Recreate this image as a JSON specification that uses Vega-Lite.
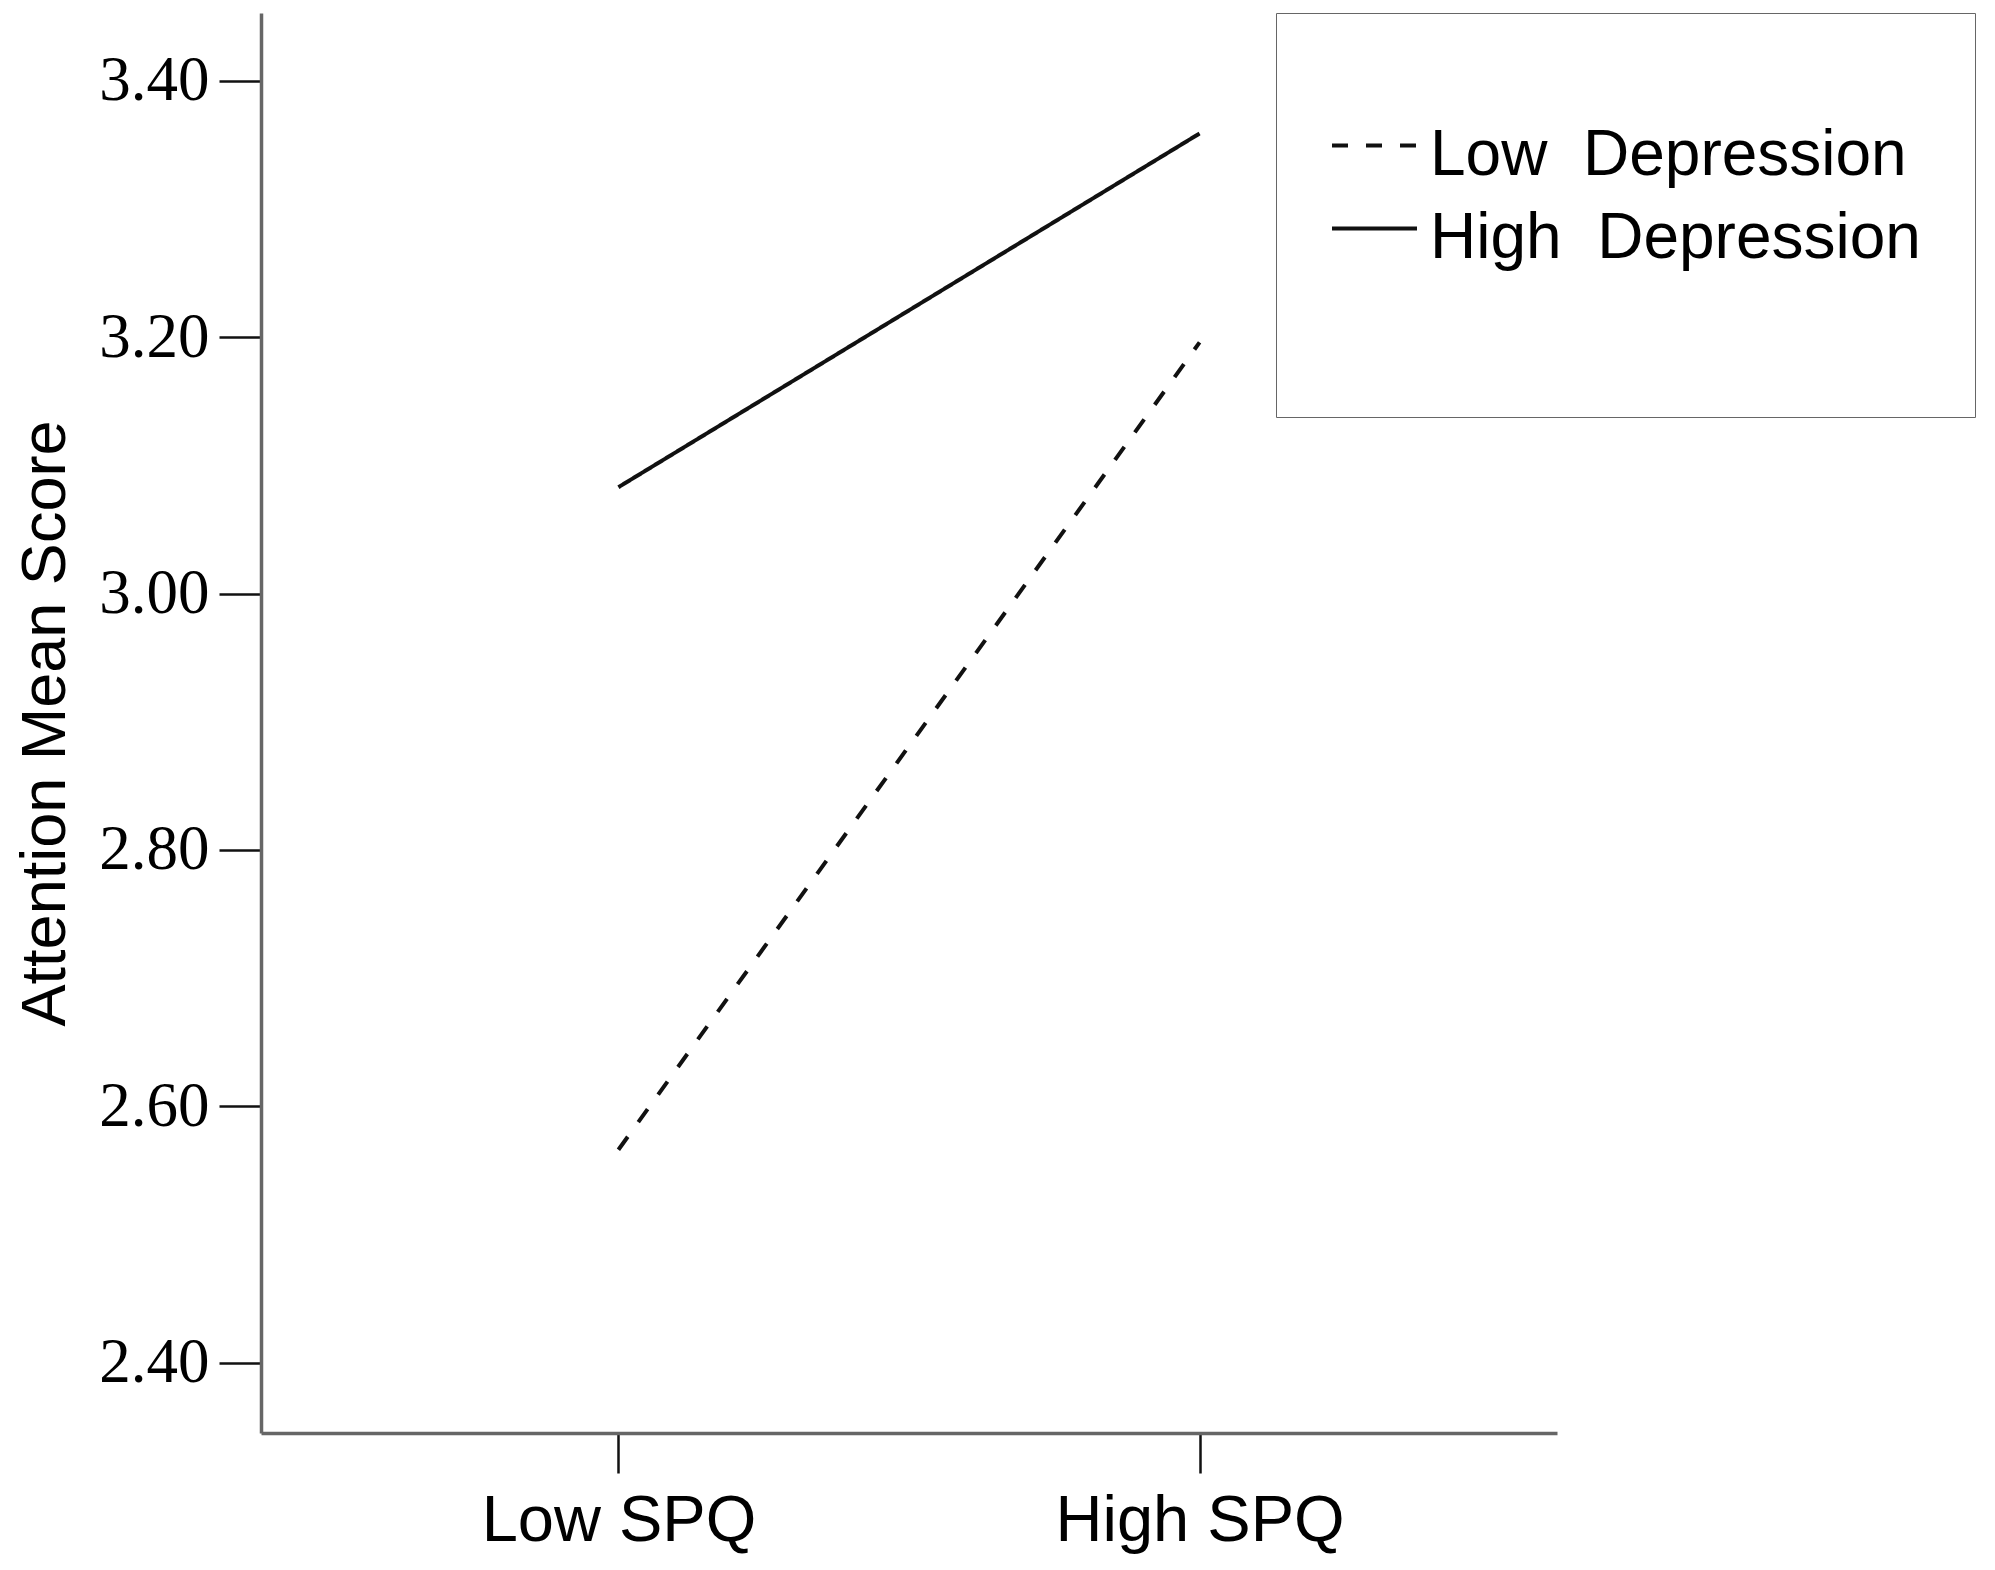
{
  "$schema": "https://vega.github.io/schema/vega-lite/v6.json",
  "width": 1296,
  "height": 1420,
  "autosize": {"type": "none"},
  "padding": {"left": 261, "top": 13, "right": 438, "bottom": 137},
  "background": "white",
  "config": {"view": {"stroke": null}},
  "data": {
    "values": [
      {"spq": "Low SPQ", "group": "Low Depression", "score": 2.566},
      {"spq": "High SPQ", "group": "Low Depression", "score": 3.196},
      {"spq": "Low SPQ", "group": "High Depression", "score": 3.083},
      {"spq": "High SPQ", "group": "High Depression", "score": 3.359}
    ]
  },
  "mark": {"type": "line", "strokeWidth": 4, "color": "#111111", "strokeCap": "butt"},
  "encoding": {
    "x": {
      "field": "spq",
      "type": "nominal",
      "sort": ["Low SPQ", "High SPQ"],
      "scale": {"type": "point", "padding": 0.615},
      "axis": {
        "title": null,
        "labelAngle": 0,
        "labelFont": "Liberation Sans",
        "labelFontSize": 65,
        "labelColor": "#000000",
        "labelLimit": 2000,
        "labelPadding": 16,
        "tickSize": 40,
        "tickColor": "#111111",
        "tickWidth": 2.5,
        "domainColor": "#666666",
        "domainWidth": 3.5,
        "grid": false
      }
    },
    "y": {
      "field": "score",
      "type": "quantitative",
      "scale": {"domain": [2.345, 3.453], "nice": false, "zero": false},
      "axis": {
        "title": "Attention Mean Score",
        "titleFont": "Liberation Sans",
        "titleFontSize": 63,
        "titleFontWeight": "normal",
        "titleColor": "#000000",
        "titleAngle": -90,
        "titleX": -197,
        "titleY": 710,
        "titleAlign": "center",
        "titleBaseline": "alphabetic",
        "values": [2.4, 2.6, 2.8, 3.0, 3.2, 3.4],
        "format": ".2f",
        "labelFont": "Liberation Serif",
        "labelFontSize": 63,
        "labelColor": "#000000",
        "labelPadding": 10,
        "tickSize": 42,
        "tickColor": "#111111",
        "tickWidth": 2.5,
        "domainColor": "#666666",
        "domainWidth": 3.5,
        "grid": false
      }
    },
    "strokeDash": {
      "field": "group",
      "type": "nominal",
      "scale": {"domain": ["Low Depression", "High Depression"], "range": [[16, 18], [1, 0]]},
      "legend": {
        "title": "\u00a0",
        "titleOrient": "top",
        "titleFontSize": 40,
        "titlePadding": 23,
        "orient": "none",
        "legendX": 1015,
        "legendY": 0,
        "padding": 54,
        "strokeColor": "#666666",
        "fillColor": "white",
        "labelFont": "Liberation Sans",
        "labelFontSize": 64,
        "labelColor": "#000000",
        "labelLimit": 2000,
        "labelOffset": 11,
        "labelBaseline": "alphabetic",
        "labelExpr": "datum.label == 'High Depression' ? ['High\u00a0\u00a0Depression', '\u00a0'] : replace(datum.label, ' ', '\u00a0\u00a0')",
        "symbolType": "M-1,-0.682H1",
        "symbolSize": 7225,
        "symbolStrokeWidth": 4,
        "symbolStrokeColor": "#111111",
        "rowPadding": 18,
        "encode": {"labels": {"update": {"lineHeight": {"value": 92}}}}
      }
    }
  }
}
